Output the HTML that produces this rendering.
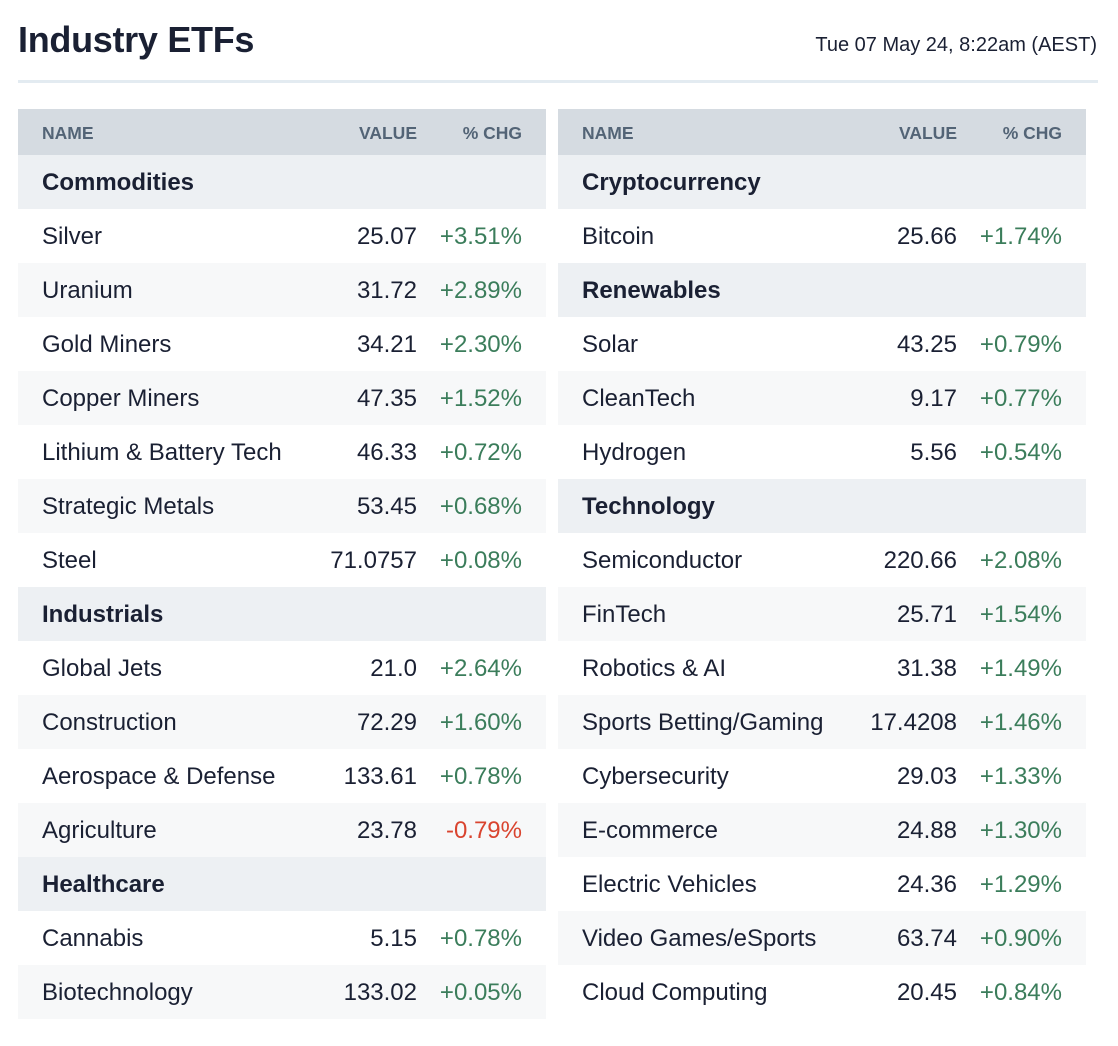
<!DOCTYPE html>
<html><head><meta charset="utf-8"><style>
body{margin:0;width:1118px;height:1046px;background:#fff;font-family:"Liberation Sans",sans-serif;color:#1a2033;position:relative;overflow:hidden}
h1{position:absolute;left:18px;top:19px;margin:0;font-size:36px;font-weight:bold;letter-spacing:-0.3px}
.date{position:absolute;right:21px;top:34px;font-size:20px;color:#1a2033}
.rule{position:absolute;left:18px;top:80px;width:1080px;height:3px;background:#e3ebf1}
table{position:absolute;top:109px;width:528px;border-collapse:collapse;font-size:24px;table-layout:fixed}
td,th{height:54px;padding:0;white-space:nowrap;padding-top:2px;box-sizing:border-box}
th{height:46px;background:#d5dbe1;color:#536476;font-size:17.5px;font-weight:bold;text-align:right}
th.n{text-align:left;padding-left:24px}
td.n{padding-left:24px}
.v{text-align:right;width:130px}
td.c,th.c{text-align:right;width:129px;padding-right:24px}
tr.cat td{background:#edf0f3;font-weight:bold}
tr.a td{background:#fff}
tr.b td{background:#f7f8f9}
.up{color:#3b7d5b}.dn{color:#d9442f}
</style></head><body>
<h1>Industry ETFs</h1>
<div class="date">Tue 07 May 24, 8:22am (AEST)</div>
<div class="rule"></div>
<table style="left:18px"><thead><tr><th class="n">NAME</th><th class="v">VALUE</th><th class="c">% CHG</th></tr></thead><tbody id="L"></tbody></table>
<table style="left:558px"><thead><tr><th class="n">NAME</th><th class="v">VALUE</th><th class="c">% CHG</th></tr></thead><tbody id="R"></tbody></table>
<script>
const leftRows=[["Commodities"],["Silver","25.07","+3.51%"],["Uranium","31.72","+2.89%"],["Gold Miners","34.21","+2.30%"],["Copper Miners","47.35","+1.52%"],["Lithium & Battery Tech","46.33","+0.72%"],["Strategic Metals","53.45","+0.68%"],["Steel","71.0757","+0.08%"],["Industrials"],["Global Jets","21.0","+2.64%"],["Construction","72.29","+1.60%"],["Aerospace & Defense","133.61","+0.78%"],["Agriculture","23.78","-0.79%"],["Healthcare"],["Cannabis","5.15","+0.78%"],["Biotechnology","133.02","+0.05%"]];
const rightRows=[["Cryptocurrency"],["Bitcoin","25.66","+1.74%"],["Renewables"],["Solar","43.25","+0.79%"],["CleanTech","9.17","+0.77%"],["Hydrogen","5.56","+0.54%"],["Technology"],["Semiconductor","220.66","+2.08%"],["FinTech","25.71","+1.54%"],["Robotics & AI","31.38","+1.49%"],["Sports Betting/Gaming","17.4208","+1.46%"],["Cybersecurity","29.03","+1.33%"],["E-commerce","24.88","+1.30%"],["Electric Vehicles","24.36","+1.29%"],["Video Games/eSports","63.74","+0.90%"],["Cloud Computing","20.45","+0.84%"]];
function fill(id,rows){const tb=document.getElementById(id);let k=0;
for(const r of rows){const tr=document.createElement('tr');
if(r.length===1){tr.className='cat';k=0;


tr.innerHTML='<td class="n" colspan="3">'+r[0].replace(/&/g,'&amp;')+'</td>';}
else{tr.className=k%2?'b':'a';k++;


tr.innerHTML='<td class="n">'+r[0].replace(/&/g,'&amp;')+'</td><td class="v">'+r[1]+'</td><td class="c '+(r[2][0]==='-'?'dn':'up')+'">'+r[2]+'</td>';}
tb.appendChild(tr);}}
fill('L',leftRows);fill('R',rightRows);
</script>
</body></html>
